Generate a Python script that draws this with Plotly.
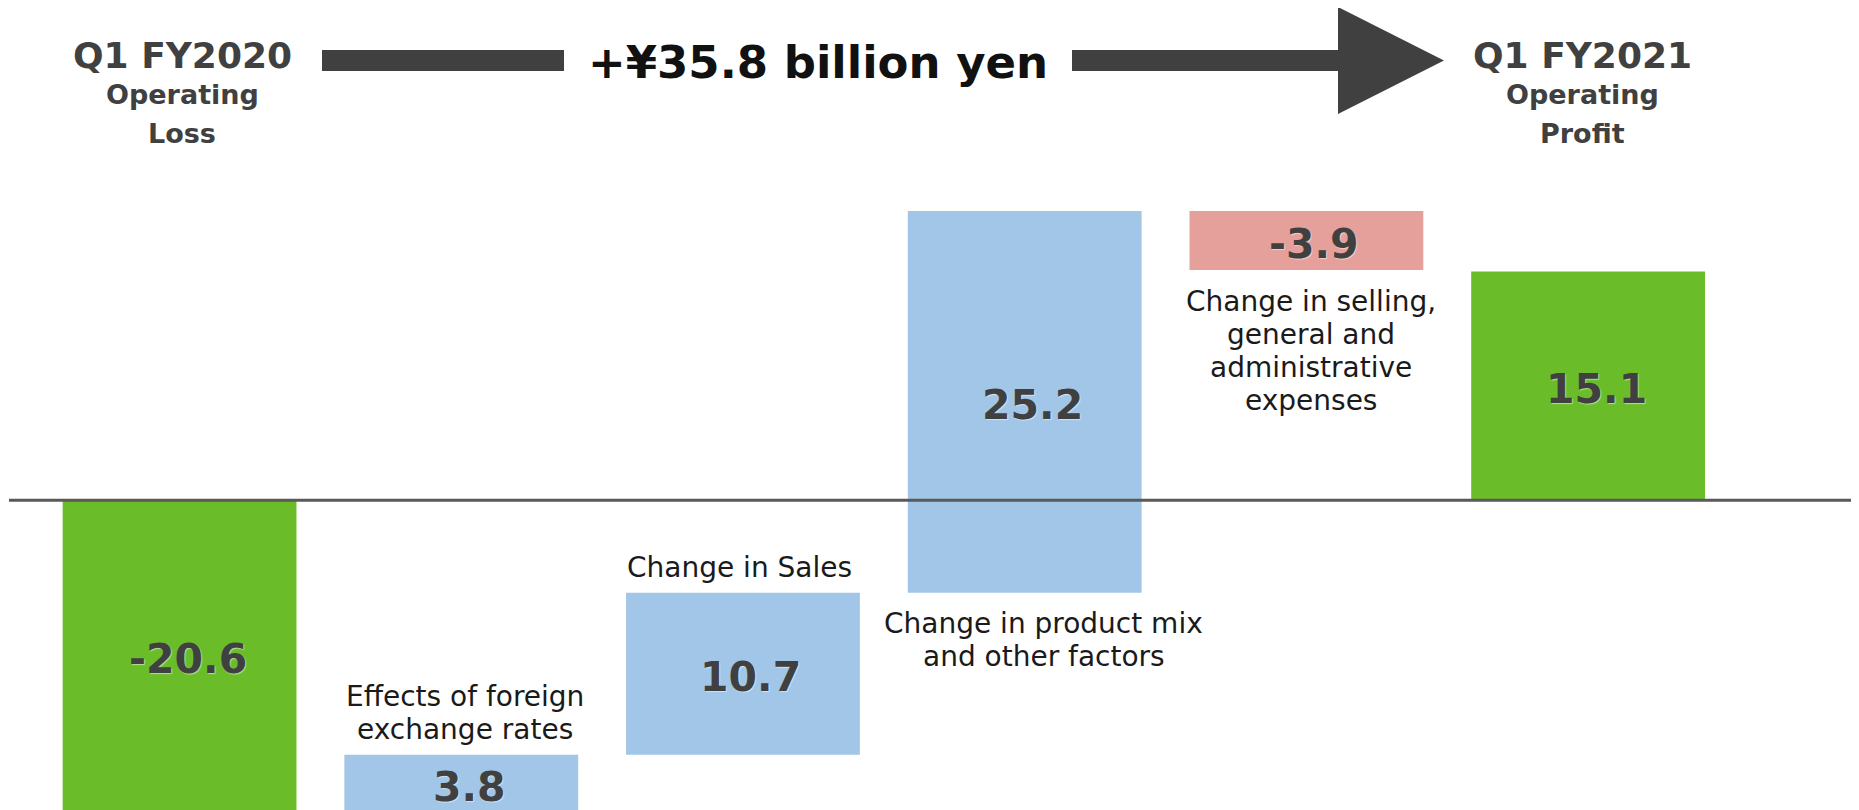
import plotly.graph_objects as go

# operating profit bridge, billions of yen
steps = ["Q1 FY2020", "FX", "Sales", "Mix", "SG&A", "Q1 FY2021"]
values = [-20.6, 3.8, 10.7, 25.2, -3.9, 15.1]
measures = ["total", "relative", "relative", "relative", "relative", "total"]
step_labels = [
    [],
    ["Effects of foreign", "exchange rates"],
    ["Change in Sales"],
    ["Change in product mix", "and other factors"],
    ["Change in selling,", "general and", "administrative", "expenses"],
    [],
]
label_side = ["", "above", "above", "below", "below", ""]
headers = [["Q1 FY2020", "Operating", "Loss"], ["Q1 FY2021", "Operating", "Profit"]]
headline = "+¥35.8 billion yen"

W, H = 1859, 810
OFF = 8  # page body margin
GREEN, BLUE, PINK = "#6abd29", "#a2c6e7", "#e5a09c"
DARK = "#404040"
FONT = "DejaVu Sans"


def px(x):
    return (x - OFF) / W


def py(y):
    return 1 - (y - OFF) / H


# waterfall bases
bases, colors = [], []
running = 0
for v, m in zip(values, measures):
    if m == "total":
        bases.append(0)
        colors.append(GREEN)
        running = v
    else:
        bases.append(running)
        colors.append(BLUE if v > 0 else PINK)
        running += v

xs = list(range(len(steps)))
fig = go.Figure()
fig.add_trace(go.Bar(x=xs, y=values, base=bases, marker=dict(color=colors, line=dict(width=0)),
                     width=0.83, hoverinfo="skip"))

ann = []
# value labels in the middle of each bar
for i, (v, b) in enumerate(zip(values, bases)):
    ann.append(dict(x=i, y=b + v / 2, xref="x", yref="y", text=f"{v:.1f}", showarrow=False,
                    xshift=8, yshift=-3, yanchor="middle",
                    font=dict(family=FONT, size=41, color=DARK, weight="bold",
                              shadow="1px 1px 1px rgba(255,255,255,0.5)")))

# step descriptions
label_dx = [0, 4, -3, 19, 5, 0]
spacing = 33
for i, lines in enumerate(step_labels):
    top = max(bases[i], bases[i] + values[i])
    bot = min(bases[i], bases[i] + values[i])
    n = len(lines)
    for k, line in enumerate(lines):
        if label_side[i] == "above":
            y, ys = top, 25 + (n - 1 - k) * spacing
        else:
            y, ys = bot, -(31 + k * spacing)
        ann.append(dict(x=i, y=y, xref="x", yref="y", text=line, showarrow=False,
                        xshift=label_dx[i], yshift=ys, yanchor="middle",
                        font=dict(family=FONT, size=28, color="#1a1a1a")))

# header blocks
for cx, block in zip([182, 1582], headers):
    for k, (line, cy) in enumerate(zip(block, [56, 94, 133])):
        ann.append(dict(x=px(cx), y=py(cy), xref="paper", yref="paper", text=line,
                        showarrow=False, xanchor="center", yanchor="middle",
                        font=dict(family=FONT, size=36 if k == 0 else 27, color=DARK, weight="bold")))

ann.append(dict(x=px(818), y=py(63), xref="paper", yref="paper", text=headline, showarrow=False,
                xanchor="center", yanchor="middle",
                font=dict(family=FONT, size=45, color="#111111", weight="bold")))

shapes = [
    dict(type="rect", xref="paper", yref="paper", x0=px(322), x1=px(564), y0=py(71), y1=py(50),
         fillcolor=DARK, line=dict(width=0)),
    dict(type="path", xref="paper", yref="paper",
         path=f"M {px(1072)} {py(50)} L {px(1338)} {py(50)} L {px(1338)} {py(7)} "
              f"L {px(1444)} {py(60.5)} L {px(1338)} {py(114)} L {px(1338)} {py(71)} "
              f"L {px(1072)} {py(71)} Z",
         fillcolor=DARK, line=dict(width=0)),
    dict(type="line", xref="paper", yref="y", x0=px(9), x1=px(1857), y0=0, y1=0,
         line=dict(color="#595959", width=3), layer="above"),
]

fig.update_layout(
    width=W, height=H, margin=dict(l=0, r=0, t=0, b=0),
    plot_bgcolor="white", paper_bgcolor="white", showlegend=False,
    xaxis=dict(visible=False, range=[-0.609, 5.990]),
    yaxis=dict(visible=False, range=[-20.97, 32.50]),
    annotations=ann, shapes=shapes,
)
# keep the page free of scrollbars so the full width shows
fig.write_html("out.html", post_script="document.body.style.overflow='hidden';")
